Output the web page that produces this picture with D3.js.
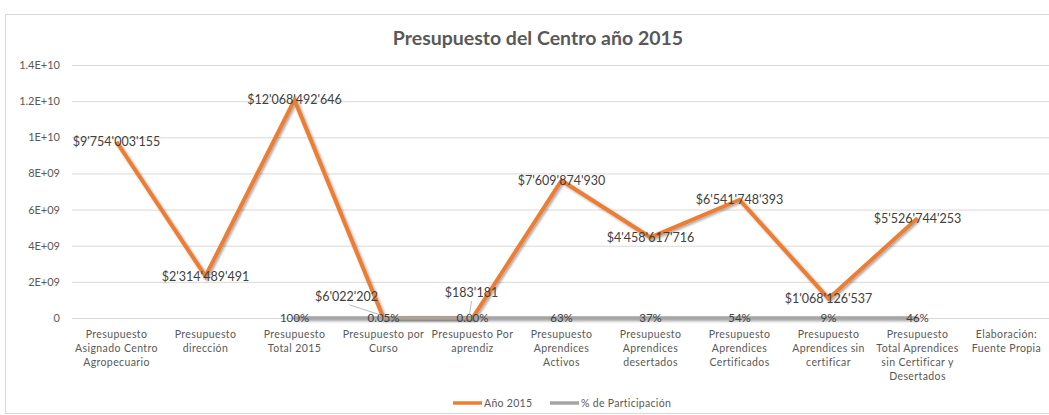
<!DOCTYPE html>
<html>
<head>
<meta charset="utf-8">
<script src="https://cdn.jsdelivr.net/npm/d3@7"></script>
<style>
  html, body { margin: 0; padding: 0; background: #fff; }
  svg { display: block; font-family: Lato, "Open Sans", sans-serif; }
</style>
</head>
<body>
<svg id="chart" width="1049" height="415"></svg>
<script>
// ---- data ----
const categories = [
  "Presupuesto Asignado Centro Agropecuario",
  "Presupuesto dirección",
  "Presupuesto Total 2015",
  "Presupuesto por Curso",
  "Presupuesto Por aprendiz",
  "Presupuesto Aprendices Activos",
  "Presupuesto Aprendices desertados",
  "Presupuesto Aprendices Certificados",
  "Presupuesto Aprendices sin certificar",
  "Presupuesto Total Aprendices sin Certificar y Desertados",
  "Elaboración: Fuente Propia"
];
const categoryLines = [
  ["Presupuesto", "Asignado Centro", "Agropecuario"],
  ["Presupuesto", "dirección"],
  ["Presupuesto", "Total 2015"],
  ["Presupuesto por", "Curso"],
  ["Presupuesto Por", "aprendiz"],
  ["Presupuesto", "Aprendices", "Activos"],
  ["Presupuesto", "Aprendices", "desertados"],
  ["Presupuesto", "Aprendices", "Certificados"],
  ["Presupuesto", "Aprendices sin", "certificar"],
  ["Presupuesto", "Total Aprendices", "sin Certificar y", "Desertados"],
  ["Elaboración:", "Fuente Propia"]
];
const anio2015 = [9754003155, 2314489491, 12068492646, 6022202, 183181,
                  7609874930, 4458617716, 6541748393, 1068126537, 5526744253, null];
const participacion = [null, null, 1.00, 0.0005, 0.0000, 0.63, 0.37, 0.54, 0.09, 0.46, null];
const participacionLabels = [null, null, "100%", "0.05%", "0.00%", "63%", "37%", "54%", "9%", "46%", null];
const yTicks = [0, 2e9, 4e9, 6e9, 8e9, 1e10, 1.2e10, 1.4e10];
const yTickLabels = ["0", "2E+09", "4E+09", "6E+09", "8E+09", "1E+10", "1.2E+10", "1.4E+10"];
const seriesNames = ["Año 2015", "% de Participación"];
const title = "Presupuesto del Centro año 2015";

// ---- styling / layout ----
const orange = "#ED7D31", gray = "#A5A5A5", textCol = "#595959", labelCol = "#404040", gridCol = "#D9D9D9";
const plot = { left: 72, right: 1051, top: 65, bottom: 318 };
// manual nudges for labels that Excel moved away from their points (index -> dx, dy)
const labelNudge = { 3: [-37, -21], 4: [-1, -25] };

const svg = d3.select("#chart");
const defs = svg.append("defs");
const f = defs.append("filter").attr("id", "shadow").attr("filterUnits", "userSpaceOnUse")
  .attr("x", 0).attr("y", 0).attr("width", 1049).attr("height", 415);
f.append("feDropShadow").attr("dx", 1.5).attr("dy", 1.5).attr("stdDeviation", 1.2)
  .attr("flood-color", "#000").attr("flood-opacity", 0.35);

// outer border
svg.append("rect").attr("x", 5.5).attr("y", 14.5).attr("width", 1060).attr("height", 399)
  .attr("fill", "#fff").attr("stroke", gridCol);

// title
svg.append("text").attr("x", 538).attr("y", 45).attr("text-anchor", "middle")
  .attr("font-size", 19.5).attr("font-weight", "bold").attr("fill", textCol).text(title);

const x = d3.scaleBand().domain(categories).range([plot.left, plot.right]).padding(0);
const cx = c => x(c) + x.bandwidth() / 2;
const y = d3.scaleLinear().domain([0, 1.4e10]).range([plot.bottom, plot.top]);

// grid + y axis
const yAxis = d3.axisLeft(y).tickValues(yTicks)
  .tickFormat((d, i) => yTickLabels[i])
  .tickSize(-(plot.right - plot.left)).tickPadding(12);
const gy = svg.append("g").attr("transform", `translate(${plot.left},0)`).call(yAxis);
gy.select(".domain").remove();
gy.selectAll(".tick line").attr("stroke", gridCol).attr("stroke-width", 1);
gy.selectAll(".tick text").attr("fill", textCol).attr("font-size", 11).attr("font-family", "Lato, sans-serif");

// x axis labels
const gx = svg.append("g");
categories.forEach((c, i) => {
  const t = gx.append("text").attr("x", cx(c)).attr("y", 338).attr("text-anchor", "middle")
    .attr("font-size", 10.5).attr("fill", textCol).attr("letter-spacing", 0.4);
  categoryLines[i].forEach((ln, j) => {
    t.append("tspan").attr("x", cx(c)).attr("dy", j === 0 ? 0 : 14).text(ln);
  });
});

// orange series line
const orData = categories.map((c, i) => ({ c, v: anio2015[i] }));
const orLine = d3.line().defined(d => d.v != null).x(d => cx(d.c)).y(d => y(d.v));
svg.append("path").datum(orData).attr("d", orLine).attr("fill", "none")
  .attr("stroke", orange).attr("stroke-width", 4).attr("stroke-linejoin", "miter")
  .attr("filter", "url(#shadow)");

// gray series line (plotted on the same axis, so it sits on zero)
const grayData = categories.map((c, i) => ({ c, v: participacion[i] }));
const grayLine = d3.line().defined(d => d.v != null).x(d => cx(d.c)).y(d => y(d.v));
svg.append("path").datum(grayData).attr("d", grayLine).attr("fill", "none")
  .attr("stroke", gray).attr("stroke-width", 3.5).attr("stroke-linejoin", "round")
  .attr("filter", "url(#shadow)");

// formatting
function money(v) {
  const s = String(Math.round(v));
  const parts = [];
  for (let i = s.length; i > 0; i -= 3) parts.unshift(s.slice(Math.max(0, i - 3), i));
  return "$" + parts.join("'");
}

// percent labels
grayData.forEach((d, i) => {
  if (d.v == null) return;
  svg.append("text").attr("x", cx(d.c)).attr("y", y(d.v)).attr("dy", "0.36em")
    .attr("text-anchor", "middle").attr("font-size", 11.5).attr("fill", labelCol)
    .text(participacionLabels[i]);
});

// value labels
orData.forEach((d, i) => {
  if (d.v == null) return;
  const px = cx(d.c), py = y(d.v);
  const nd = labelNudge[i] || [0, 0];
  const lx = px + nd[0], ly = py + nd[1];
  if (labelNudge[i]) {
    svg.append("line").attr("x1", lx + (nd[0] < -10 ? 3 : 0)).attr("y1", ly + 8)
      .attr("x2", px - 3).attr("y2", py - 3).attr("stroke", "#A6A6A6").attr("stroke-width", 0.8);
  }
  svg.append("text").attr("x", lx).attr("y", ly).attr("dy", "0.36em")
    .attr("text-anchor", "middle").attr("font-size", 12.5).attr("fill", labelCol)
    .text(money(d.v));
});

// legend
const lg = svg.append("g").attr("transform", "translate(0,403)");
const legendItems = [
  { name: seriesNames[0], color: orange, x0: 453 },
  { name: seriesNames[1], color: gray, x0: 550 }
];
legendItems.forEach(it => {
  lg.append("line").attr("x1", it.x0).attr("x2", it.x0 + 29).attr("y1", 0).attr("y2", 0)
    .attr("stroke", it.color).attr("stroke-width", 3.5);
  lg.append("text").attr("x", it.x0 + 31).attr("y", 0).attr("dy", "0.35em")
    .attr("font-size", 10.5).attr("fill", textCol).attr("letter-spacing", 0.3).text(it.name);
});
</script>
</body>
</html>
